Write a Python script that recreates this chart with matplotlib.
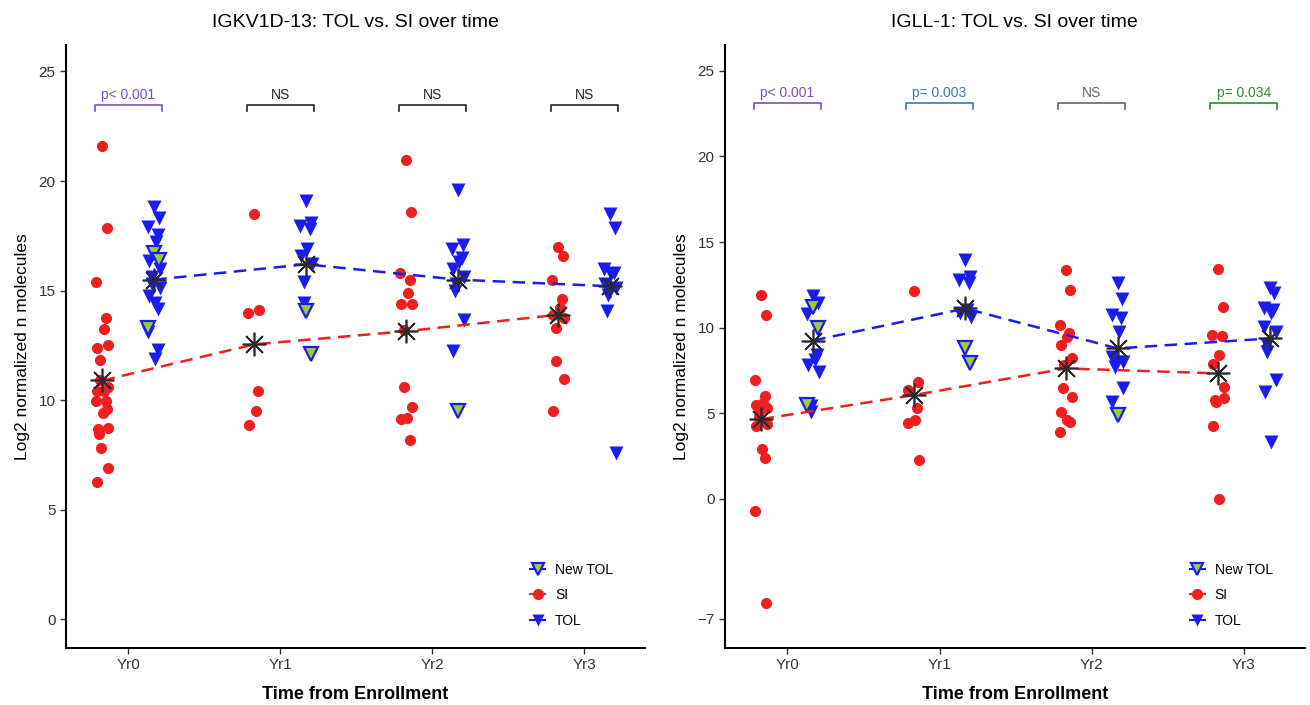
import numpy as np
import matplotlib.pyplot as plt
from matplotlib.lines import Line2D

plt.rcParams['font.family'] = ['Liberation Sans', 'DejaVu Sans']

years = ['Yr0', 'Yr1', 'Yr2', 'Yr3']

# left panel: IGKV1D-13
si_left = [
    [21.6, 17.85, 15.4, 13.75, 13.25, 12.4, 12.5, 11.85, 10.9, 10.6, 10.4, 10.4, 9.95, 9.95,
     9.6, 9.4, 8.7, 8.75, 8.45, 7.8, 6.9, 6.25],
    [18.5, 14.1, 14.0, 10.4, 9.5, 8.85],
    [20.95, 18.6, 15.8, 15.5, 14.9, 14.4, 14.4, 13.2, 10.6, 9.7, 9.15, 9.2, 8.2],
    [17.0, 16.6, 15.5, 14.6, 14.2, 13.9, 13.75, 13.3, 11.8, 10.95, 9.5],
]
tol_left = [
    [18.8, 18.3, 17.9, 17.55, 17.2, 16.35, 16.0, 15.6, 15.3, 15.1, 14.75, 14.45, 14.15,
     13.1, 12.3, 11.9],
    [19.08, 18.1, 17.95, 17.8, 16.9, 16.6, 16.2, 15.4, 14.45],
    [19.6, 17.1, 16.9, 16.5, 16.3, 16.0, 15.6, 15.3, 15.0, 13.65, 12.25],
    [18.5, 17.85, 16.0, 15.8, 15.75, 15.3, 15.1, 14.8, 14.05, 7.6],
]
newtol_left = [[16.7, 16.4, 13.3], [14.05, 12.1], [9.5], []]
mean_si_left = [10.9, 12.55, 13.15, 13.9]
mean_tol_left = [15.5, 16.2, 15.5, 15.2]
p_left = ['p< 0.001', 'NS', 'NS', 'NS']
pcol_left = ['#7b4fc0', '#222222', '#222222', '#222222']

# right panel: IGLL-1
si_right = [
    [11.9, 10.75, 6.96, 6.02, 5.6, 5.5, 5.3, 5.08, 4.78, 4.36, 4.26, 2.9, 2.38, -0.7, -6.06],
    [12.15, 6.84, 6.36, 5.29, 4.6, 4.41, 2.27],
    [13.35, 12.19, 10.15, 9.66, 9.46, 8.98, 8.2, 7.8, 6.45, 5.97, 5.09, 4.6, 4.5, 3.93],
    [13.4, 11.2, 9.56, 9.5, 8.4, 7.9, 6.55, 5.67, 5.77, 5.87, 4.28, 0.0],
]
tol_right = [
    [11.85, 11.43, 10.8, 8.4, 8.1, 7.8, 7.4, 5.4, 5.1],
    [13.94, 12.96, 12.77, 12.58, 11.02, 10.83, 10.63],
    [12.58, 11.7, 10.73, 10.54, 9.76, 8.3, 8.0, 8.0, 7.7, 6.45, 5.67],
    [12.29, 12.0, 11.12, 11.02, 10.83, 10.05, 9.76, 8.98, 8.59, 6.94, 6.26, 3.34],
]
newtol_right = [[11.2, 10.0, 5.5], [8.79, 7.95], [4.9], []]
mean_si_right = [4.66, 6.06, 7.62, 7.33]
mean_tol_right = [9.25, 11.12, 8.79, 9.37]
p_right = ['p< 0.001', 'p= 0.003', 'NS', 'p= 0.034']
pcol_right = ['#7b4fc0', '#3c78b4', '#666666', '#2e8b2e']

RED = '#f01e1e'
BLUE = '#1c1cf0'
GREEN = '#9acd32'
DODGE = 0.17


def jitter(n):
    # fixed small spread so overlapping points stay visible
    return 0.04 * np.sin(np.arange(n) * 2.3)


def draw_panel(ax, si, tol, newtol, mean_si, mean_tol, plabels, pcolors, ybr, title,
               yticks, ylim):
    for i in range(len(years)):
        ax.plot(i - DODGE + jitter(len(si[i])), si[i], 'o', color=RED, ms=8, mec='none', zorder=2)
        ax.plot(i + DODGE + jitter(len(tol[i])), tol[i], 'v', color=BLUE, ms=9.5, mec='none', zorder=2)
        if newtol[i]:
            ax.plot(i + DODGE + jitter(len(newtol[i])), newtol[i], 'v', mfc=GREEN, mec=BLUE,
                    mew=1.6, ms=9.5, zorder=3)
    x = np.arange(len(years))
    ax.plot(x - DODGE, mean_si, '--', color=RED, lw=1.8, dashes=(5, 3), zorder=4)
    ax.plot(x + DODGE, mean_tol, '--', color=BLUE, lw=1.8, dashes=(5, 3), zorder=4)
    ax.plot(x - DODGE, mean_si, ls='none', marker=(8, 2, 0), ms=17, color='#2a2a2a', mew=1.2, zorder=5)
    ax.plot(x + DODGE, mean_tol, ls='none', marker=(8, 2, 0), ms=17, color='#2a2a2a', mew=1.2, zorder=5)

    # significance brackets
    h = (ylim[1] - ylim[0]) * 0.009
    for i, (lab, c) in enumerate(zip(plabels, pcolors)):
        x0, x1 = i - 0.22, i + 0.22
        ax.plot([x0, x0, x1, x1], [ybr - h, ybr, ybr, ybr - h], color=c, lw=1.2)
        ax.text(i, ybr + h * 0.6, lab, color=c, ha='center', va='bottom', fontsize=10)

    ax.set_xlim(-0.41, 3.4)
    ax.set_ylim(*ylim)
    ax.set_xticks(x)
    ax.set_xticklabels(years)
    ax.set_yticks(yticks)
    ax.tick_params(labelsize=11, colors='#333333', length=4, width=1)
    for s in ['top', 'right']:
        ax.spines[s].set_visible(False)
    for s in ['left', 'bottom']:
        ax.spines[s].set_linewidth(1.5)
    ax.set_title(title, fontsize=14, pad=13)
    ax.set_xlabel('Time from Enrollment', fontsize=13, fontweight='bold', labelpad=10)
    ax.set_ylabel('Log2 normalized n molecules', fontsize=12.5, labelpad=6)

    handles = [
        Line2D([], [], color=BLUE, marker='v', mfc=GREEN, mec=BLUE, mew=1.6, ms=9, lw=1.5),
        Line2D([], [], color=RED, marker='o', ms=8, mec='none', lw=1.5),
        Line2D([], [], color=BLUE, marker='v', ms=9, mec='none', lw=1.5),
    ]
    ax.legend(handles, ['New TOL', 'SI', 'TOL'], loc='lower left', bbox_to_anchor=(0.78, 0.012),
              frameon=False, fontsize=10, handlelength=1.1, handletextpad=0.7, labelspacing=0.85)


fig = plt.figure(figsize=(13.1, 7.05), dpi=100)
ax1 = fig.add_axes([0.0504, 0.081, 0.442, 0.855])
ax2 = fig.add_axes([0.5534, 0.081, 0.4426, 0.855])

draw_panel(ax1, si_left, tol_left, newtol_left, mean_si_left, mean_tol_left, p_left, pcol_left,
           23.45, 'IGKV1D-13: TOL vs. SI over time', [0, 5, 10, 15, 20, 25], (-1.3, 26.2))
draw_panel(ax2, si_right, tol_right, newtol_right, mean_si_right, mean_tol_right, p_right, pcol_right,
           23.1, 'IGLL-1: TOL vs. SI over time', [-7, 0, 5, 10, 15, 20, 25], (-8.7, 26.5))

fig.savefig('out.png', dpi=100)
